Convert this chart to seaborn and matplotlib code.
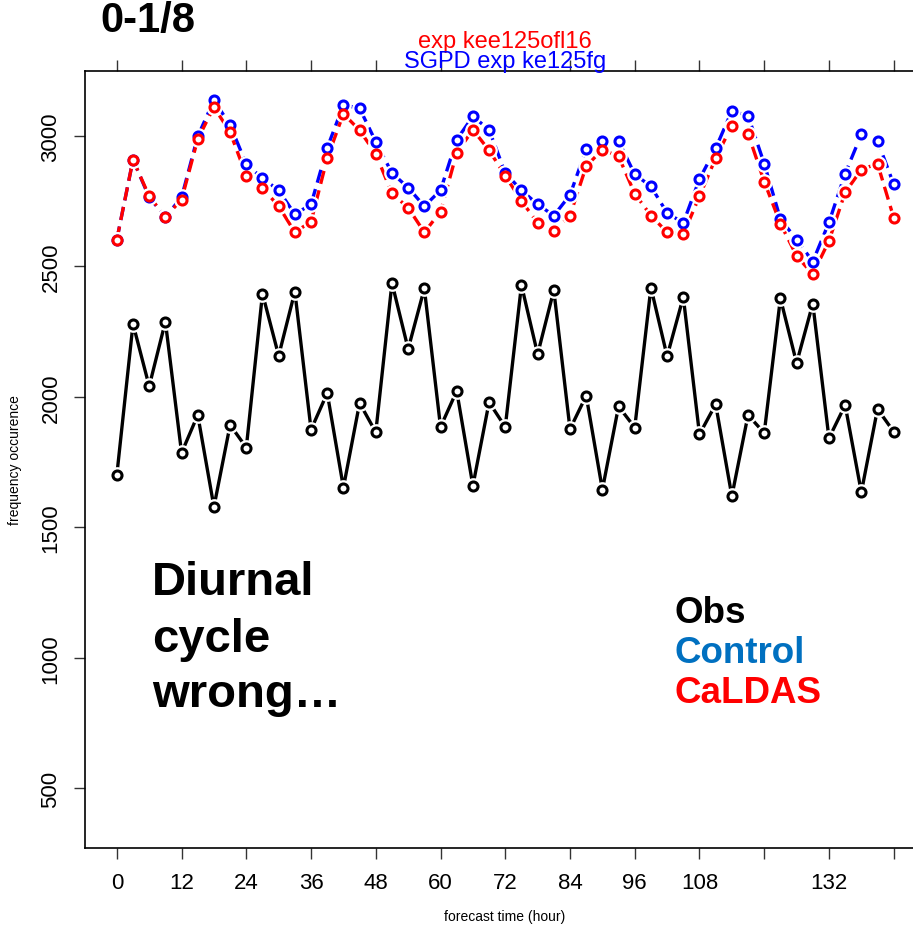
import numpy as np
import pandas as pd
import matplotlib
matplotlib.use('Agg')
import matplotlib.pyplot as plt
import seaborn as sns

sns.set_style('white')
plt.rcParams['font.family'] = ['Liberation Sans', 'DejaVu Sans']
plt.rcParams['text.color'] = 'black'
plt.rcParams['axes.labelcolor'] = 'black'
plt.rcParams['xtick.color'] = 'black'
plt.rcParams['ytick.color'] = 'black'

hours = list(range(0, 145, 3))

obs = [1701, 2280, 2041, 2289, 1786, 1931, 1579, 1893, 1806, 2396, 2158, 2404, 1875, 2015, 1653, 1977,
       1865, 2437, 2184, 2416, 1885, 2023, 1660, 1980, 1885, 2429, 2164, 2409, 1877, 2005, 1645, 1964, 1883,
       2419, 2156, 2383, 1857, 1972, 1620, 1931, 1862, 2378, 2130, 2358, 1842, 1969, 1635, 1954, 1867]

control = [2603, 2909, 2765, 2690, 2765, 2999, 3137, 3042, 2892, 2838, 2792, 2700, 2738, 2955, 3119, 3106,
           2978, 2858, 2802, 2731, 2792, 2986, 3075, 3024, 2858, 2792, 2738, 2695, 2774, 2950, 2981, 2981, 2853,
           2807, 2705, 2667, 2835, 2953, 3096, 3078, 2894, 2682, 2603, 2519, 2669, 2856, 3006, 2981, 2815]

caldas = [2603, 2909, 2769, 2690, 2756, 2988, 3111, 3014, 2848, 2800, 2731, 2631, 2672, 2915, 3085, 3022,
          2931, 2780, 2725, 2631, 2710, 2935, 3024, 2945, 2848, 2751, 2667, 2636, 2695, 2884, 2948, 2922, 2779,
          2695, 2631, 2623, 2769, 2915, 3040, 3009, 2825, 2664, 2541, 2470, 2598, 2784, 2871, 2894, 2687]

xticks = list(range(0, 145, 12))
xticklabels = [str(t) if t not in (120, 144) else '' for t in xticks]
yticks = [500, 1000, 1500, 2000, 2500, 3000]

df = pd.DataFrame({'hour': hours, 'Obs': obs, 'Control': control, 'CaLDAS': caldas})

fig = plt.figure(figsize=(9.13, 9.28), dpi=100)
ax = fig.add_axes([85 / 913, 1 - 849 / 928, 840 / 913, 777 / 928])

styles = [('Obs', 'black', '-'), ('Control', 'blue', (0, (4, 2))), ('CaLDAS', 'red', (0, (4, 2)))]
for name, col, ls in styles:
    sns.lineplot(data=df, x='hour', y=name, ax=ax, color=col, lw=2.4, linestyle=ls)
    # white halo to leave a gap round each point, like R type="b"
    ax.plot(df['hour'], df[name], 'o', ms=11, mfc='white', mec='white', zorder=3)
    ax.plot(df['hour'], df[name], 'o', ms=6.5, mfc='white', mec=col, mew=2.2, zorder=4)

ax.set_xlim(-5.9, 149.8)
ax.set_ylim(272, 3249)
ax.set_xticks(xticks)
ax.set_xticklabels(xticklabels, fontsize=16)
ax.set_yticks(yticks)
ax.set_yticklabels([str(v) for v in yticks], fontsize=16, rotation=90, va='center')
ax.tick_params(axis='both', direction='out', length=8, width=1, color='#333333', pad=9)
ax.tick_params(axis='x', top=True, bottom=True, labeltop=False)
ax.tick_params(axis='y', left=True)
ax.set_xlabel('forecast time (hour)', fontsize=10, va='center')
ax.xaxis.set_label_coords(0.5, (849 - 917) / 777)
ax.set_ylabel('frequency occurence', fontsize=10, va='center')
ax.yaxis.set_label_coords((15 - 85) / 840, 0.5)
for s in ax.spines.values():
    s.set_color('black')
    s.set_linewidth(1.2)

fig.text(100 / 913, 1 - 21 / 928, '0-1/8', fontsize=30, fontweight='bold', va='center', ha='left')
fig.text(505 / 913, 1 - 42 / 928, 'exp kee125ofl16', fontsize=17, color='red', ha='center', va='center')
fig.text(505 / 913, 1 - 62 / 928, 'SGPD exp ke125fg', fontsize=17, color='blue', ha='center', va='center')

ax.text(152 / 913, 1 - 595 / 928, 'Diurnal', transform=fig.transFigure, fontsize=34, fontweight='bold', color='black')
ax.text(152 / 913, 1 - 652 / 928, 'cycle', transform=fig.transFigure, fontsize=34, fontweight='bold', color='black')
ax.text(152 / 913, 1 - 707 / 928, 'wrong\u2026', transform=fig.transFigure, fontsize=34, fontweight='bold', color='black')

ax.text(675 / 913, 1 - 623 / 928, 'Obs', transform=fig.transFigure, fontsize=26.5, fontweight='bold', color='black')
ax.text(675 / 913, 1 - 663 / 928, 'Control', transform=fig.transFigure, fontsize=26.5, fontweight='bold', color='#0070C0')
ax.text(675 / 913, 1 - 703 / 928, 'CaLDAS', transform=fig.transFigure, fontsize=26.5, fontweight='bold', color='red')

fig.savefig('out.png', dpi=100)
